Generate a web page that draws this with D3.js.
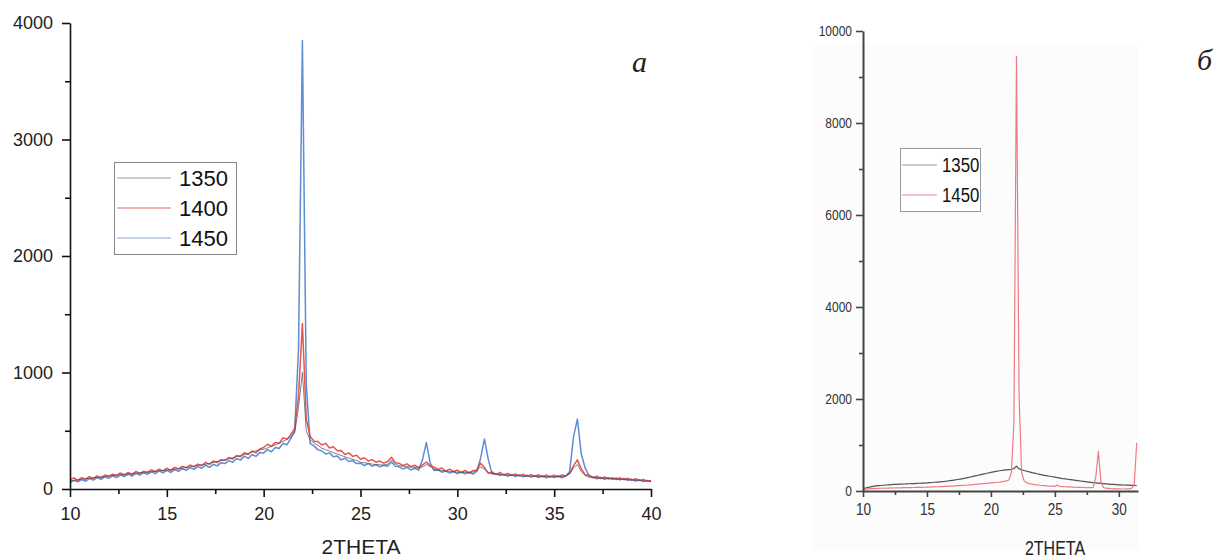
<!DOCTYPE html>
<html>
<head>
<meta charset="utf-8">
<script src="https://cdn.jsdelivr.net/npm/d3@7"></script>
<style>
  body { margin: 0; background: #fff; }
  svg { display: block; }
</style>
</head>
<body>
<div class="chart"></div>
<script>

const width = 1216;
const height = 560;

// panel a: samples every 0.2 deg from 10 to 40
const thetaStepA = 0.2;
const series1350a = [
    70, 74, 80, 84, 88,  92, 96, 100, 104, 106,  112, 114, 118, 122, 126,  128, 132, 136, 138, 142,
    145, 148, 152, 155, 158,  160, 165, 170, 175, 180,  185, 190, 196, 202, 208,  212, 220, 228, 236, 244,
    250, 258, 268, 278, 288,  296, 306, 318, 328, 336,  340, 352, 366, 378, 392,  410, 425, 445, 480, 700,
    1000, 500, 420, 395, 375,  350, 338, 325, 312, 300,  288, 276, 265, 255, 245,  230, 225, 220, 214, 210,
    208, 206, 212, 250, 215,  200, 196, 192, 188, 185,  180, 190, 210, 192, 170,  162, 158, 155, 150, 148,
    145, 142, 144, 140, 145,  155, 190, 170, 138, 132,  128, 126, 122, 120, 118,  116, 115, 113, 112, 110,
    110, 108, 107, 106, 106,  105, 106, 108, 112, 130,  180, 210, 150, 115, 102,  98, 96, 94, 92, 90,
    88, 86, 84, 82, 80,  78, 76, 74, 70, 68,  65
];
const series1400a = [
    80, 96, 72, 98, 84,  106, 90, 112, 96, 120,  110, 128, 116, 138, 120,  142, 126, 150, 134, 152,
    142, 164, 150, 170, 156,  178, 160, 186, 172, 194,  182, 206, 190, 214, 200,  228, 212, 240, 226, 252,
    246, 270, 258, 288, 276,  312, 296, 326, 310, 344,  356, 384, 366, 400, 392,  440, 428, 465, 520, 800,
    1420, 600, 452, 410, 408,  378, 392, 352, 362, 328,  330, 296, 310, 280, 290,  256, 268, 240, 252, 230,
    240, 222, 236, 272, 226,  220, 200, 216, 192, 204,  184, 206, 232, 200, 188,  168, 180, 154, 170, 150,
    162, 140, 160, 138, 158,  160, 222, 184, 136, 146,  124, 142, 118, 134, 116,  130, 112, 126, 108, 124,
    108, 122, 104, 120, 102,  118, 104, 120, 112, 134,  200, 250, 172, 124, 116,  96, 110, 90, 104, 86,
    98, 82, 96, 80, 92,  74, 88, 72, 82, 68,  72
];
const series1450a = [
    56, 74, 62, 80, 66,  90, 76, 98, 82, 104,  92, 114, 98, 120, 106,  128, 110, 134, 120, 140,
    126, 148, 132, 156, 138,  160, 142, 166, 152, 174,  160, 184, 168, 192, 178,  204, 186, 212, 198, 226,
    218, 244, 230, 262, 248,  282, 262, 296, 280, 314,  310, 338, 320, 356, 348,  392, 380, 432, 500, 1200,
    3850, 900, 392, 370, 336,  328, 300, 310, 276, 284,  250, 264, 236, 244, 218,  222, 200, 218, 196, 208,
    190, 204, 196, 232, 196,  190, 172, 186, 164, 178,  162, 250, 400, 222, 158,  164, 144, 156, 136, 150,
    132, 146, 130, 144, 128,  152, 262, 430, 252, 128,  132, 116, 128, 110, 124,  106, 122, 104, 118, 102,
    116, 98, 114, 96, 112,  98, 114, 96, 112, 150,  450, 600, 300, 180, 116,  104, 88, 100, 84, 98,
    82, 94, 78, 90, 74,  84, 68, 80, 64, 74,  62
];
const labelsA = ['1350', '1400', '1450'];
const xTicksA = [10, 15, 20, 25, 30, 35, 40];
const yTicksA = [0, 1000, 2000, 3000, 4000];

// panel б: samples every 0.2 deg from 10 to 31.4
const thetaStepB = 0.2;
const series1350b = [
    50, 65, 80, 90, 100,  110, 115, 120, 125, 130,  135, 138, 142, 145, 148,  150, 152, 155, 158, 160,
    162, 165, 168, 170, 172,  175, 180, 185, 190, 195,  200, 205, 210, 218, 225,  232, 240, 250, 260, 270,
    280, 292, 305, 318, 330,  342, 355, 368, 380, 392,  405, 415, 425, 435, 445,  455, 460, 465, 470, 490,
    540, 480, 460, 445, 430,  415, 400, 388, 375, 362,  350, 340, 330, 320, 310,  300, 290, 280, 270, 262,
    255, 248, 240, 232, 225,  218, 210, 202, 195, 188,  180, 175, 170, 165, 160,  155, 150, 146, 142, 138,
    135, 132, 130, 128, 126,  124, 122, 120
];
const series1450b = [
    30, 40, 45, 50, 52,  55, 58, 60, 62, 60,  64, 66, 65, 68, 70,  70, 72, 74, 72, 75,
    76, 78, 80, 78, 82,  84, 85, 88, 90, 92,  95, 96, 100, 102, 105,  108, 112, 115, 118, 122,
    125, 130, 135, 140, 145,  150, 155, 160, 165, 170,  175, 180, 185, 190, 200,  210, 220, 240, 400, 1500,
    9450, 2100, 400, 220, 180,  160, 150, 140, 132, 125,  120, 115, 110, 108, 105,  100, 130, 98, 95, 92,
    90, 88, 85, 82, 80,  78, 76, 75, 74, 72,  80, 300, 860, 200, 75,  60, 55, 50, 48, 46,
    45, 44, 44, 46, 48,  55, 120, 1050
];
const labelsB = ['1350', '1450'];
const xTicksB = [10, 15, 20, 25, 30];
const yTicksB = [0, 2000, 4000, 6000, 8000, 10000];

const narrow = 0.8;


buildCanvas();


function toPoints(values, start, step) {
    return values.map((v, i) => ({ t: +(start + i * step).toFixed(2), v: v }));
}

function buildCanvas() {

    const canvas = d3.select('.chart')
        .append('svg')
        .attr('width', width)
        .attr('height', height);

    // ---------- panel a ----------
    let xA = d3.scaleLinear().domain([10, 40]).range([70, 651]);
    let yA = d3.scaleLinear().domain([0, 4000]).range([489, 23]);

    let gA = canvas.append('g')
        .attr('font-family', '"Liberation Sans", Arial, sans-serif');

    let lineA = d3.line()
        .x((d) => xA(d.t))
        .y((d) => yA(d.v));

    let seriesA = [
        { name: '1450', values: series1450a, color: '#4d7fd0', w: 1.5, o: 0.9 },
        { name: '1400', values: series1400a, color: '#e8403c', w: 1.5, o: 0.9 },
        { name: '1350', values: series1350a, color: '#4a4a58', w: 1.0, o: 0.7 }
    ];

    seriesA.forEach((s) => {
        gA.append('path')
            .datum(toPoints(s.values, 10, thetaStepA))
            .attr('fill', 'none')
            .attr('stroke', s.color)
            .attr('stroke-width', s.w)
            .attr('stroke-opacity', s.o)
            .attr('stroke-linejoin', 'round')
            .attr('d', lineA);
    });

    // minor ticks
    gA.append('g')
        .attr('transform', 'translate(0,489)')
        .call(d3.axisBottom(xA).tickValues(d3.range(12.5, 40, 5)).tickSize(5).tickFormat(''))
        .call((g) => g.select('.domain').remove());
    gA.append('g')
        .attr('transform', 'translate(70,0)')
        .call(d3.axisLeft(yA).tickValues(d3.range(500, 4000, 1000)).tickSize(5).tickFormat(''))
        .call((g) => g.select('.domain').remove());

    let axisXA = gA.append('g')
        .attr('transform', 'translate(0,489)')
        .call(d3.axisBottom(xA).tickValues(xTicksA).tickSize(8).tickSizeOuter(0).tickPadding(10));
    let axisYA = gA.append('g')
        .attr('transform', 'translate(70,0)')
        .call(d3.axisLeft(yA).tickValues(yTicksA).tickSize(8).tickSizeOuter(0).tickPadding(9).tickFormat(d3.format('d')));

    [axisXA, axisYA].forEach((ax) => {
        ax.selectAll('.domain').attr('stroke', '#111').attr('stroke-width', 1.6);
        ax.selectAll('.tick text').attr('font-size', 18).attr('fill', '#222')
            .attr('font-family', '"Liberation Sans", Arial, sans-serif');
    });
    gA.selectAll('.tick line').attr('stroke', '#111').attr('stroke-width', 1.6);

    gA.append('text')
        .attr('x', 361)
        .attr('y', 554)
        .attr('text-anchor', 'middle')
        .attr('font-size', 21)
        .attr('fill', '#222')
        .text('2THETA');

    gA.append('text')
        .attr('x', 632)
        .attr('y', 72)
        .attr('font-family', '"Liberation Serif", "Times New Roman", serif')
        .attr('font-style', 'italic')
        .attr('font-size', 30)
        .attr('fill', '#222')
        .text('а');

    // legend a
    let legA = gA.append('g');
    legA.append('rect')
        .attr('x', 114.5).attr('y', 162.5)
        .attr('width', 122).attr('height', 92)
        .attr('fill', '#fff').attr('stroke', '#888').attr('stroke-width', 1);
    let legColorsA = ['#9a9a9a', '#e26a6a', '#8aa6d6'];
    labelsA.forEach((name, i) => {
        legA.append('line')
            .attr('x1', 117).attr('x2', 171)
            .attr('y1', 178 + i * 30).attr('y2', 178 + i * 30)
            .attr('stroke', legColorsA[i]).attr('stroke-width', 1.2);
        legA.append('text')
            .attr('x', 179).attr('y', 186 + i * 30)
            .attr('font-size', 22).attr('fill', '#111')
            .text(name);
    });

    // ---------- panel б ----------
    let xB = d3.scaleLinear().domain([10, 31.5]).range([863, 1138]);
    let yB = d3.scaleLinear().domain([0, 10000]).range([491, 31]);

    let gB = canvas.append('g')
        .attr('font-family', '"Liberation Sans", Arial, sans-serif');

    gB.append('rect')
        .attr('x', 813).attr('y', 45)
        .attr('width', 325).attr('height', 505)
        .attr('fill', '#fcfcfc');

    let lineB = d3.line()
        .x((d) => xB(d.t))
        .y((d) => yB(d.v));

    let seriesB = [
        { name: '1350', values: series1350b, color: '#505058' },
        { name: '1450', values: series1450b, color: '#f07a82' }
    ];

    seriesB.forEach((s) => {
        gB.append('path')
            .datum(toPoints(s.values, 10, thetaStepB))
            .attr('fill', 'none')
            .attr('stroke', s.color)
            .attr('stroke-width', 1.2)
            .attr('stroke-linejoin', 'round')
            .attr('d', lineB);
    });

    gB.append('g')
        .attr('transform', 'translate(0,491)')
        .call(d3.axisBottom(xB).tickValues(d3.range(12.5, 31.5, 5)).tickSize(4).tickFormat(''))
        .call((g) => g.select('.domain').remove());
    gB.append('g')
        .attr('transform', 'translate(863,0)')
        .call(d3.axisLeft(yB).tickValues(d3.range(1000, 10000, 2000)).tickSize(4).tickFormat(''))
        .call((g) => g.select('.domain').remove());

    let axisXB = gB.append('g')
        .attr('transform', 'translate(0,491)')
        .call(d3.axisBottom(xB).tickValues(xTicksB).tickSize(6).tickSizeOuter(0).tickPadding(6));
    let axisYB = gB.append('g')
        .attr('transform', 'translate(863,0)')
        .call(d3.axisLeft(yB).tickValues(yTicksB).tickSize(7).tickSizeOuter(0).tickPadding(4).tickFormat(d3.format('d')));

    [axisXB, axisYB].forEach((ax) => {
        ax.selectAll('.domain').attr('stroke', '#444').attr('stroke-width', 2);
        ax.selectAll('.tick text').attr('fill', '#333')
            .attr('font-family', '"Liberation Sans", Arial, sans-serif');
    });
    // condensed look of the tick labels
    axisYB.selectAll('.tick text')
        .attr('font-size', 15)
        .attr('x', -11 / narrow)
        .attr('transform', `scale(${narrow},1)`);
    axisXB.selectAll('.tick text')
        .attr('font-size', 17)
        .attr('transform', `scale(${narrow},1)`);
    gB.selectAll('.tick line').attr('stroke', '#444').attr('stroke-width', 1.6);

    gB.append('text')
        .attr('transform', `translate(1055,555) scale(${narrow},1)`)
        .attr('text-anchor', 'middle')
        .attr('font-size', 20)
        .attr('fill', '#222')
        .text('2THETA');

    gB.append('text')
        .attr('x', 1197)
        .attr('y', 70)
        .attr('font-family', '"Liberation Serif", "Times New Roman", serif')
        .attr('font-style', 'italic')
        .attr('font-size', 30)
        .attr('fill', '#222')
        .text('б');

    let legB = gB.append('g');
    legB.append('rect')
        .attr('x', 900.5).attr('y', 148.5)
        .attr('width', 80).attr('height', 63)
        .attr('fill', '#fff').attr('stroke', '#999').attr('stroke-width', 1);
    let legColorsB = ['#9a9a9a', '#f08a92'];
    labelsB.forEach((name, i) => {
        legB.append('line')
            .attr('x1', 902).attr('x2', 937)
            .attr('y1', 165 + i * 30).attr('y2', 165 + i * 30)
            .attr('stroke', legColorsB[i]).attr('stroke-width', 1.2);
        legB.append('text')
            .attr('transform', `translate(942,${172 + i * 30}) scale(${narrow},1)`)
            .attr('font-size', 21).attr('fill', '#111')
            .text(name);
    });
}

</script>
</body>
</html>
